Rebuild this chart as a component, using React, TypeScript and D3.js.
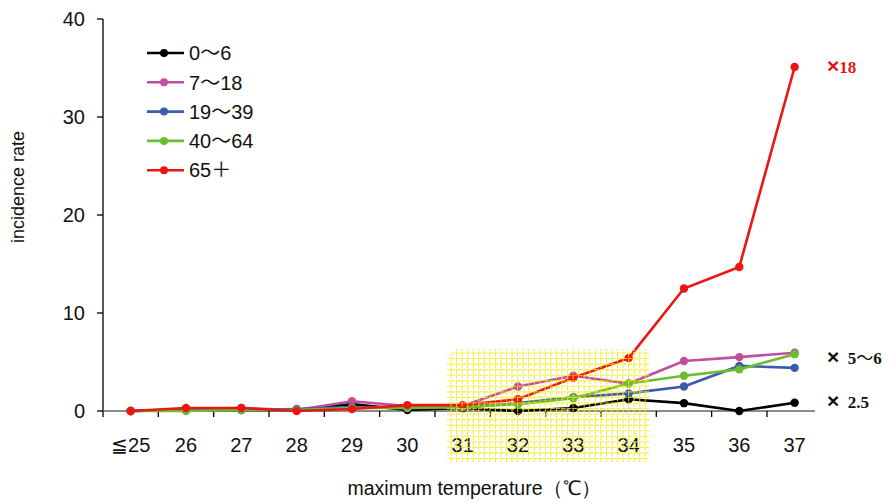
import React from "react";
import * as d3 from "d3";

const categories = ["≦25", "26", "27", "28", "29", "30", "31", "32", "33", "34", "35", "36", "37"];
const age0to6 = [0, 0.1, 0.1, 0.1, 0.7, 0.1, 0.3, 0.0, 0.3, 1.2, 0.8, 0.0, 0.85];
const age7to18 = [0, 0.2, 0.3, 0.1, 1.0, 0.5, 0.5, 2.5, 3.6, 2.8, 5.1, 5.5, 5.95];
const age19to39 = [0, 0.1, 0.1, 0.2, 0.4, 0.3, 0.4, 0.8, 1.4, 1.8, 2.5, 4.6, 4.4];
const age40to64 = [0, 0.0, 0.1, 0.1, 0.3, 0.3, 0.4, 0.7, 1.3, 2.8, 3.6, 4.25, 5.8];
const age65plus = [0, 0.3, 0.3, 0.0, 0.2, 0.6, 0.6, 1.2, 3.4, 5.4, 12.5, 14.7, 35.1];
const seriesNames = ["0〜6", "7〜18", "19〜39", "40〜64", "65＋"];
const seriesColors = ["#000000", "#c0509e", "#3b5cab", "#6cbd2e", "#ee1414"];
const yTicks = [0, 10, 20, 30, 40];
const annotations = [
  { mult: "18", gap: "", value: 35.1, color: "#e81414" },
  { mult: "5〜6", gap: "  ", value: 5.4, color: "#111111" },
  { mult: "2.5", gap: "  ", value: 0.9, color: "#111111" },
];

const W = 891;
const H = 503;

const font = "'Liberation Sans', Arial, sans-serif";
const serif = "'Liberation Serif', 'Times New Roman', serif";
const cjk = "'Noto Sans CJK JP', 'Noto Sans CJK SC', sans-serif";

// split text so full-width symbols use a CJK font
function MixedText({ s }: { s: string }) {
  const parts = s.split(/([〜＋])/).filter((p) => p.length);
  return (
    <>
      {parts.map((p, i) =>
        p === "〜" || p === "＋" ? (
          <tspan key={i} fontFamily={cjk} fontWeight="normal">
            {p}
          </tspan>
        ) : (
          <tspan key={i}>{p}</tspan>
        )
      )}
    </>
  );
}

export default function App() {
  const seriesData = [age0to6, age7to18, age19to39, age40to64, age65plus];
  const x = d3.scaleBand<string>().domain(categories).range([103, 822.3]);
  const cx = (c: string) => (x(c) as number) + x.bandwidth() / 2;
  const y = d3.scaleLinear().domain([0, 40]).range([411, 19]);
  const line = d3
    .line<number>()
    .x((_, i) => cx(categories[i]))
    .y((d) => y(d));

  // yellow highlight patch
  const px0 = 447, px1 = 650, py0 = 349, py1 = 462;
  const step = 5.55;
  const vLines = d3.range(px0 + 4, px1, step);
  const hLines = d3.range(py0 + 4, py1, step);

  return (
    <svg
      width={W}
      height={H}
      style={{ position: "absolute", left: 0, top: 0, background: "#fff" }}
      fontFamily={font}
    >
      {/* y axis */}
      <line x1={103} x2={103} y1={y(40)} y2={y(0)} stroke="#000" strokeWidth={1.3} />
      {yTicks.map((t) => (
        <g key={t}>
          <line x1={97} x2={103} y1={y(t)} y2={y(t)} stroke="#000" strokeWidth={1.3} />
          <text x={85} y={y(t)} dy="0.36em" textAnchor="end" fontSize={20} fill="#111">
            {t}
          </text>
        </g>
      ))}
      {/* x axis */}
      <line x1={103} x2={815} y1={y(0)} y2={y(0)} stroke="#666" strokeWidth={1.5} />
      {categories.map((c) => (
        <g key={c}>
          <line
            x1={x(c) as number}
            x2={x(c) as number}
            y1={y(0)}
            y2={y(0) + 6}
            stroke="#000"
            strokeWidth={1.3}
          />
          <text x={cx(c)} y={452} textAnchor="middle" fontSize={20} fill="#111">
            {c}
          </text>
        </g>
      ))}

      {/* series */}
      {seriesData.map((s, k) => (
        <g key={k}>
          <path d={line(s) || ""} fill="none" stroke={seriesColors[k]} strokeWidth={2.6} />
          {s.map((v, i) => (
            <circle key={i} cx={cx(categories[i])} cy={y(v)} r={4.2} fill={seriesColors[k]} />
          ))}
        </g>
      ))}

      {/* yellow grid highlight */}
      <g stroke="#f5ea10" strokeWidth={1.1} opacity={0.8}>
        {vLines.map((vx, i) => (
          <line
            key={"v" + i}
            x1={vx}
            x2={vx}
            y1={py0 + (i < 1 ? 5 : 0)}
            y2={py1}
            strokeDasharray="4.6 0.95"
            strokeDashoffset={2.3}
          />
        ))}
        {hLines.map((hy, i) => (
          <line
            key={"h" + i}
            x1={px0 + (i < 1 ? 5 : 0)}
            x2={px1}
            y1={hy}
            y2={hy}
            strokeDasharray="4.6 0.95"
            strokeDashoffset={2.3}
          />
        ))}
      </g>

      {/* legend */}
      {seriesNames.map((n, k) => {
        const ly = 53 + k * 29.3;
        return (
          <g key={n}>
            <line x1={147} x2={184} y1={ly} y2={ly} stroke={seriesColors[k]} strokeWidth={2.6} />
            <circle cx={164} cy={ly} r={4} fill={seriesColors[k]} />
            <text x={189} y={ly} dy="0.36em" fontSize={20} fill="#111">
              <MixedText s={n} />
            </text>
          </g>
        );
      })}

      {/* annotations */}
      {annotations.map((a, i) => (
        <text
          key={i}
          x={827}
          y={y(a.value)}
          dy="0.36em"
          fontFamily={serif}
          fontWeight="bold"
          fontSize={17}
          fill={a.color}
          style={{ whiteSpace: "pre" }}
        >
          <tspan fontFamily={font} fontSize={21}>×</tspan>
          <tspan>{a.gap}</tspan>
          <MixedText s={a.mult} />
        </text>
      ))}

      {/* axis titles */}
      <text x={474} y={495} textAnchor="middle" fontSize={19.5} fill="#111">
        maximum temperature（℃）
      </text>
      <text
        transform="translate(24,187) rotate(-90)"
        textAnchor="middle"
        fontSize={18}
        fill="#111"
      >
        incidence rate
      </text>
    </svg>
  );
}
